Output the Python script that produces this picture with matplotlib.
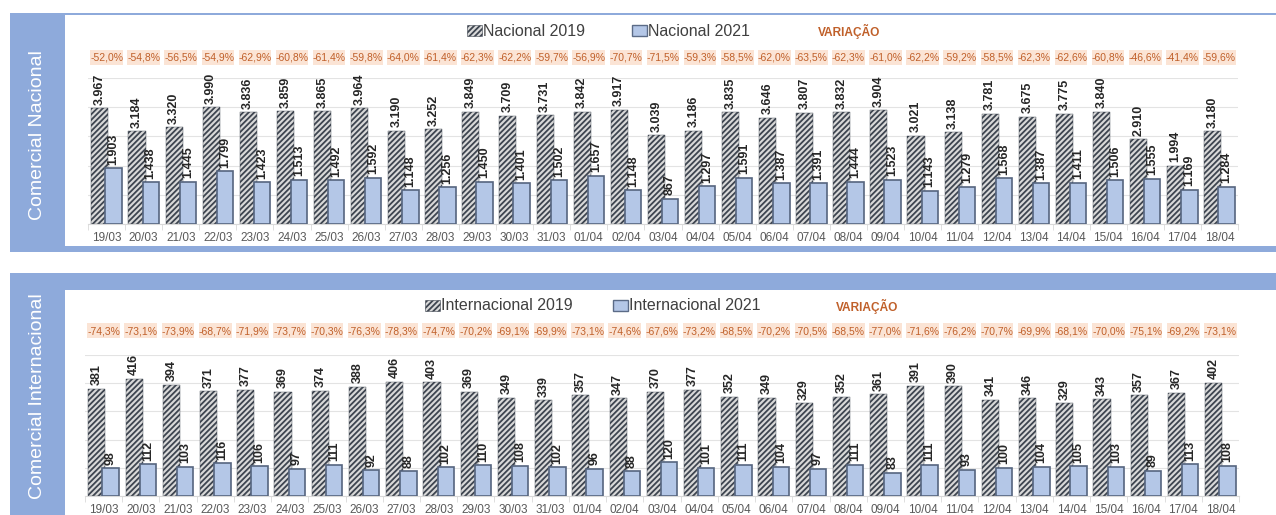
import numpy as np
import matplotlib.pyplot as plt
from matplotlib.patches import Rectangle
from matplotlib.transforms import blended_transform_factory
from matplotlib import font_manager

dias = ["19/03", "20/03", "21/03", "22/03", "23/03", "24/03", "25/03", "26/03", "27/03",
        "28/03", "29/03", "30/03", "31/03", "01/04", "02/04", "03/04", "04/04", "05/04",
        "06/04", "07/04", "08/04", "09/04", "10/04", "11/04", "12/04", "13/04", "14/04",
        "15/04", "16/04", "17/04", "18/04"]

nacional_2019 = [3967, 3184, 3320, 3990, 3836, 3859, 3865, 3964, 3190, 3252, 3849, 3709, 3731,
                 3842, 3917, 3039, 3186, 3835, 3646, 3807, 3832, 3904, 3021, 3138, 3781, 3675,
                 3775, 3840, 2910, 1994, 3180]
nacional_2021 = [1903, 1438, 1445, 1799, 1423, 1513, 1492, 1592, 1148, 1256, 1450, 1401, 1502,
                 1657, 1148, 867, 1297, 1591, 1387, 1391, 1444, 1523, 1143, 1279, 1568, 1387,
                 1411, 1506, 1555, 1169, 1284]
variacao_nac = [-52.0, -54.8, -56.5, -54.9, -62.9, -60.8, -61.4, -59.8, -64.0, -61.4, -62.3,
                -62.2, -59.7, -56.9, -70.7, -71.5, -59.3, -58.5, -62.0, -63.5, -62.3, -61.0,
                -62.2, -59.2, -58.5, -62.3, -62.6, -60.8, -46.6, -41.4, -59.6]

internacional_2019 = [381, 416, 394, 371, 377, 369, 374, 388, 406, 403, 369, 349, 339, 357, 347,
                      370, 377, 352, 349, 329, 352, 361, 391, 390, 341, 346, 329, 343, 357, 367, 402]
internacional_2021 = [98, 112, 103, 116, 106, 97, 111, 92, 88, 102, 110, 108, 102, 96, 88, 120,
                      101, 111, 104, 97, 111, 83, 111, 93, 100, 104, 105, 103, 89, 113, 108]
variacao_int = [-74.3, -73.1, -73.9, -68.7, -71.9, -73.7, -70.3, -76.3, -78.3, -74.7, -70.2,
                -69.1, -69.9, -73.1, -74.6, -67.6, -73.2, -68.5, -70.2, -70.5, -68.5, -77.0,
                -71.6, -76.2, -70.7, -69.9, -68.1, -70.0, -75.1, -69.2, -73.1]

W, H = 1276, 515
AZUL = "#8eaadb"
AZUL_BARRA = "#b4c7e7"
LARANJA = "#c0602a"
CINZA = "#595959"
HACHURA = "#3e4550"

nomes = {f.name for f in font_manager.fontManager.ttflist}
estreita = "Liberation Sans Narrow" if "Liberation Sans Narrow" in nomes else "Liberation Sans"

plt.rcParams["font.family"] = ["Liberation Sans", "DejaVu Sans"]
plt.rcParams["hatch.linewidth"] = 1.3

fig = plt.figure(figsize=(W / 100, H / 100), dpi=100)
fundo = fig.add_axes([0, 0, 1, 1], zorder=-10)
fundo.set_xlim(0, W)
fundo.set_ylim(H, 0)
fundo.axis("off")


def caixa(x0, y0, x1, y1, **kw):
    fundo.add_patch(Rectangle((x0, y0), x1 - x0, y1 - y0, **kw))


# moldura do painel nacional
caixa(10, 13, W, 15, fc=AZUL, ec="none")
caixa(10, 13, 65, 252, fc=AZUL, ec="none")
caixa(10, 246, W, 252, fc=AZUL, ec="none")
fundo.text(38, 135, "Comercial Nacional", rotation=90, color="white", fontsize=14,
           ha="center", va="center")

# moldura do painel internacional
caixa(10, 273, W, 290, fc=AZUL, ec="none")
caixa(10, 273, 65, H, fc=AZUL, ec="none")
fundo.text(38, 396, "Comercial Internacional", rotation=90, color="white", fontsize=14,
           ha="center", va="center")


def legenda(x19, x21, xvar, y, txt19, txt21):
    caixa(x19, y - 6, x19 + 15, y + 5, fc="#d9d9d9", ec=HACHURA, lw=0.4, hatch="//////")
    fundo.text(x19 + 16, y, txt19, fontsize=11.5, color="#404040", ha="left", va="center")
    caixa(x21, y - 6, x21 + 15, y + 5, fc=AZUL_BARRA, ec="#5b6b87", lw=1)
    fundo.text(x21 + 16, y, txt21, fontsize=11.5, color="#404040", ha="left", va="center")
    fundo.text(xvar, y, "VARIAÇÃO", fontsize=8.6, fontweight="bold", color=LARANJA,
               ha="left", va="center")


legenda(467, 632, 818, 31, "Nacional 2019", "Nacional 2021")
legenda(425, 613, 836, 306, "Internacional 2019", "Internacional 2021")


def grafico(box, v19, v21, var, ymax, passo, fmt, y_pct):
    x0, y0, x1, y1 = box
    ax = fig.add_axes([x0 / W, 1 - y1 / H, (x1 - x0) / W, (y1 - y0) / H])
    ax.set_facecolor("none")
    x = np.arange(len(dias))
    b19 = ax.bar(x - 0.18, v19, 0.46, color="#d9d9d9", edgecolor=HACHURA, linewidth=0.3,
                 hatch="//////", zorder=2)
    b21 = ax.bar(x + 0.19, v21, 0.44, color=AZUL_BARRA, edgecolor="#56657f", linewidth=1.2,
                 zorder=3)
    for barras, vals in ((b19, v19), (b21, v21)):
        for r, v in zip(barras, vals):
            ax.annotate(fmt(v), (r.get_x() + r.get_width() / 2, v), xytext=(0, 2.5),
                        textcoords="offset points", rotation=90, ha="center", va="bottom",
                        fontsize=9, fontweight="bold", color="#262626",
                        family=[estreita, "DejaVu Sans"], zorder=5, annotation_clip=False)
    # caixas da variação acima do gráfico
    ty = blended_transform_factory(ax.transData, ax.transAxes)
    ya = (y1 - y_pct) / (y1 - y0)
    hb = 15 / (y1 - y0)
    for i, p in enumerate(var):
        ax.add_patch(Rectangle((i - 0.44, ya - hb / 2), 0.88, hb, transform=ty,
                               fc="#fbe4d5", ec="none", clip_on=False, zorder=4))
        ax.text(i, ya, f"{p:.1f}%".replace(".", ","), transform=ty, ha="center", va="center",
                fontsize=7.5, color=LARANJA, family=[estreita, "DejaVu Sans"], zorder=5)
    ax.set_xlim(-0.5, len(dias) - 0.5)
    ax.set_ylim(0, ymax)
    ax.set_yticks(np.arange(0, ymax + 1, passo))
    ax.yaxis.grid(True, color="#e3e3e3", lw=0.8)
    ax.set_axisbelow(True)
    ax.tick_params(axis="y", left=False, labelleft=False)
    ax.set_xticks(x, dias)
    ax.tick_params(axis="x", length=0, pad=6, labelsize=8.5, labelcolor=CINZA)
    ax.set_xticks(np.arange(-0.5, len(dias), 1), minor=True)
    ax.tick_params(axis="x", which="minor", length=4, color="#d9d9d9")
    for s in ("top", "right", "left"):
        ax.spines[s].set_visible(False)
    ax.spines["bottom"].set_color("#d9d9d9")
    return ax


grafico((88, 78, 1238, 224), nacional_2019, nacional_2021, variacao_nac, 5000, 1000,
        lambda v: f"{v:,}".replace(",", "."), 57)
grafico((85, 355, 1239, 496), internacional_2019, internacional_2021, variacao_int, 500, 100,
        lambda v: str(v), 331)

fig.savefig("out.png", dpi=100)
